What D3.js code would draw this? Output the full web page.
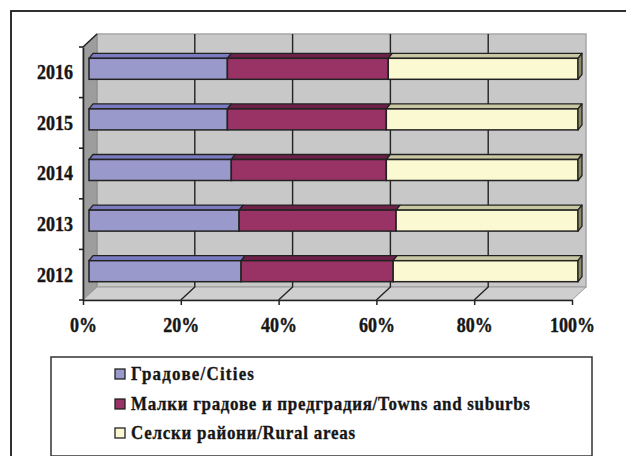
<!DOCTYPE html>
<html>
<head>
<meta charset="utf-8">
<script src="https://cdn.jsdelivr.net/npm/d3@7"></script>
<style>
  body { margin: 0; background: #fff; }
  svg { display: block; font-family: "Liberation Serif", "Times New Roman", serif; font-weight: bold; }
</style>
</head>
<body>
<svg id="chart" width="626" height="456"></svg>
<script>
/*------------------------
  -------- DATA ----------
  ------------------------*/
var years = ["2012", "2013", "2014", "2015", "2016"];
var cities = [31.1, 30.7, 29.1, 28.3, 28.3];
var towns = [31.1, 32.1, 31.7, 32.5, 32.9];
var rural = [37.8, 37.2, 39.2, 39.2, 38.8];
var tick_values = [0, 20, 40, 60, 80, 100];
var series_names = ["Градове/Cities", "Малки градове и предградия/Towns and suburbs", "Селски райони/Rural areas"];

/*------------------------
  ------ LAYOUT ----------
  ------------------------*/
var svg = d3.select("#chart");
var front = { left: 83, right: 572, top: 47, bottom: 300 };
var depth = { dx: 14, dy: -13 };     // back wall offset
var bar_off = { dx: 6, dy: 0 };      // front face of bars
var bar_depth = { dx: 4, dy: -5 };   // thickness of bars
var fills = [
  { front: "#9999cc", top: "#7b7bc2", side: "#5f5fa0" },
  { front: "#993366", top: "#6e2148", side: "#551838" },
  { front: "#fbf9d2", top: "#c9c8a2", side: "#8c8b68" }
];
var stroke_col = "#222";
var text_col = "#161616";

var x = d3.scaleLinear().domain([0, 100]).range([front.left, front.right]);
var y = d3.scaleBand().domain(years.slice().reverse()).range([front.top, front.bottom]);

var rows = years.map(function(yr, i) {
  var segs = [cities[i], towns[i], rural[i]];
  var acc = 0;
  return {
    year: yr,
    segs: segs.map(function(v, k) {
      var s = { k: k, v0: acc, v1: acc + v };
      acc += v;
      return s;
    })
  };
});

/*------------------------
  ---- OUTER FRAME -------
  ------------------------*/
svg.append("rect")
  .attr("x", 11).attr("y", 11)
  .attr("width", 700).attr("height", 600)
  .attr("fill", "none")
  .attr("stroke", "#1a1a1a")
  .attr("stroke-width", 1.8);

/*------------------------
  ---- WALLS & FLOOR -----
  ------------------------*/
function pts(a) { return a.map(function(p) { return p.join(","); }).join(" "); }

svg.append("polygon")
  .attr("points", pts([
    [front.left + depth.dx, front.top + depth.dy],
    [front.right + depth.dx, front.top + depth.dy],
    [front.right + depth.dx, front.bottom + depth.dy],
    [front.left + depth.dx, front.bottom + depth.dy]]))
  .attr("fill", "#c8c8c8")
  .attr("stroke", "#a6a6a6")
  .attr("stroke-width", 1.5);

// side wall
svg.append("polygon")
  .attr("points", pts([
    [front.left, front.top],
    [front.left + depth.dx, front.top + depth.dy],
    [front.left + depth.dx, front.bottom + depth.dy],
    [front.left, front.bottom]]))
  .attr("fill", "#9d9d9d")
  .attr("stroke", "#8a8a8a")
  .attr("stroke-width", 1);

// floor
svg.append("polygon")
  .attr("points", pts([
    [front.left, front.bottom],
    [front.left + depth.dx, front.bottom + depth.dy],
    [front.right + depth.dx, front.bottom + depth.dy],
    [front.right, front.bottom]]))
  .attr("fill", "#cfcfcf")
  .attr("stroke", "#9a9a9a")
  .attr("stroke-width", 1);

// top edge of side wall
svg.append("line")
  .attr("x1", front.left).attr("y1", front.top)
  .attr("x2", front.left + depth.dx).attr("y2", front.top + depth.dy)
  .attr("stroke", stroke_col).attr("stroke-width", 1.5);

// gridlines on wall and floor
var inner_ticks = tick_values.filter(function(v) { return v > 0 && v < 100; });
svg.append("g").selectAll("polyline")
  .data(inner_ticks)
  .enter()
  .append("polyline")
  .attr("points", function(v) {
    return pts([
      [x(v), front.bottom],
      [x(v) + depth.dx, front.bottom + depth.dy],
      [x(v) + depth.dx, front.top + depth.dy]]);
  })
  .attr("fill", "none")
  .attr("stroke", stroke_col)
  .attr("stroke-width", 1.4);

/*------------------------
  -------- BARS ----------
  ------------------------*/
var bar_h = 21;
function bar_top(yr) { return y(yr) + 11.3; }

var r_groups = svg.append("g")
  .selectAll(".row")
  .data(rows)
  .enter()
  .append("g")
  .attr("class", "row");

r_groups.each(function(r) {
  var g = d3.select(this);
  var yt = bar_top(r.year);
  var yb = yt + bar_h;
  r.segs.forEach(function(s) {
    var x0 = x(s.v0) + bar_off.dx;
    var x1 = x(s.v1) + bar_off.dx;
    g.append("polygon")
      .attr("points", pts([
        [x0, yt], [x0 + bar_depth.dx, yt + bar_depth.dy],
        [x1 + bar_depth.dx, yt + bar_depth.dy], [x1, yt]]))
      .attr("fill", fills[s.k].top)
      .attr("stroke", stroke_col)
      .attr("stroke-width", 1.3)
      .attr("stroke-linejoin", "round");
    g.append("rect")
      .attr("x", x0)
      .attr("y", yt)
      .attr("width", x1 - x0)
      .attr("height", bar_h)
      .attr("fill", fills[s.k].front)
      .attr("stroke", stroke_col)
      .attr("stroke-width", 1.5);
    if (s.k === r.segs.length - 1) {
      g.append("polygon")
        .attr("points", pts([
          [x1, yt], [x1 + bar_depth.dx, yt + bar_depth.dy],
          [x1 + bar_depth.dx, yb + bar_depth.dy], [x1, yb]]))
        .attr("fill", fills[s.k].side)
        .attr("stroke", stroke_col)
        .attr("stroke-width", 1.3)
        .attr("stroke-linejoin", "round");
    }
  });
});

/*------------------------
  -------- AXES ----------
  ------------------------*/
var x_axis = svg.append("g")
  .attr("transform", "translate(0," + front.bottom + ")")
  .call(d3.axisBottom(x)
    .tickValues(tick_values)
    .tickSize(5)
    .tickSizeOuter(0)
    .tickFormat(function(d) { return d + "%"; }));

var y_axis = svg.append("g")
  .attr("transform", "translate(" + front.left + ",0)")
  .call(d3.axisLeft(y).tickSize(0).tickSizeOuter(0));

[x_axis, y_axis].forEach(function(a) {
  a.select(".domain").attr("stroke", stroke_col).attr("stroke-width", 1.6);
  a.selectAll(".tick line").attr("stroke", stroke_col).attr("stroke-width", 1.5);
  a.selectAll("text")
    .attr("fill", text_col)
    .attr("stroke", text_col)
    .attr("stroke-width", 0.35)
    .style("font-family", "'Liberation Serif', 'Times New Roman', serif")
    .style("font-weight", "bold")
    .style("font-size", "18px");
});

x_axis.selectAll(".tick text")
  .attr("y", null).attr("dy", null)
  .attr("transform", "translate(0,32) scale(1,1.22)");

y_axis.selectAll(".tick text")
  .attr("x", null).attr("dy", null)
  .attr("text-anchor", "end")
  .attr("transform", "translate(-10,6.8) scale(1,1.18)");

// category boundary ticks on the left axis
var bounds = years.map(function(yr) { return y(yr); }).concat([front.bottom]);
y_axis.append("g").selectAll("line")
  .data(bounds)
  .enter()
  .append("line")
  .attr("x1", -4).attr("x2", 0)
  .attr("y1", function(d) { return d; })
  .attr("y2", function(d) { return d; })
  .attr("stroke", stroke_col)
  .attr("stroke-width", 1.6);

/*------------------------
  ------- LEGEND ---------
  ------------------------*/
var legend_widths = [123, 399, 224];
var legend_rows = [374, 404, 433];

svg.append("rect")
  .attr("x", 51).attr("y", 357)
  .attr("width", 541).attr("height", 99)
  .attr("fill", "#fff")
  .attr("stroke", "#333")
  .attr("stroke-width", 1.5);

var l_items = svg.append("g")
  .selectAll(".legend-item")
  .data(series_names)
  .enter()
  .append("g")
  .attr("class", "legend-item")
  .attr("transform", function(d, i) { return "translate(115," + legend_rows[i] + ")"; });

l_items.append("rect")
  .attr("x", 0).attr("y", -5)
  .attr("width", 10).attr("height", 10)
  .attr("fill", function(d, i) { return fills[i].front; })
  .attr("stroke", stroke_col)
  .attr("stroke-width", 1.3);

l_items.append("text")
  .attr("transform", "translate(16,6) scale(1,1.15)")
  .attr("textLength", function(d, i) { return legend_widths[i]; })
  .attr("lengthAdjust", "spacing")
  .style("font-size", "17px")
  .attr("fill", text_col)
  .attr("stroke", text_col)
  .attr("stroke-width", 0.3)
  .text(function(d) { return d; });
</script>
</body>
</html>
